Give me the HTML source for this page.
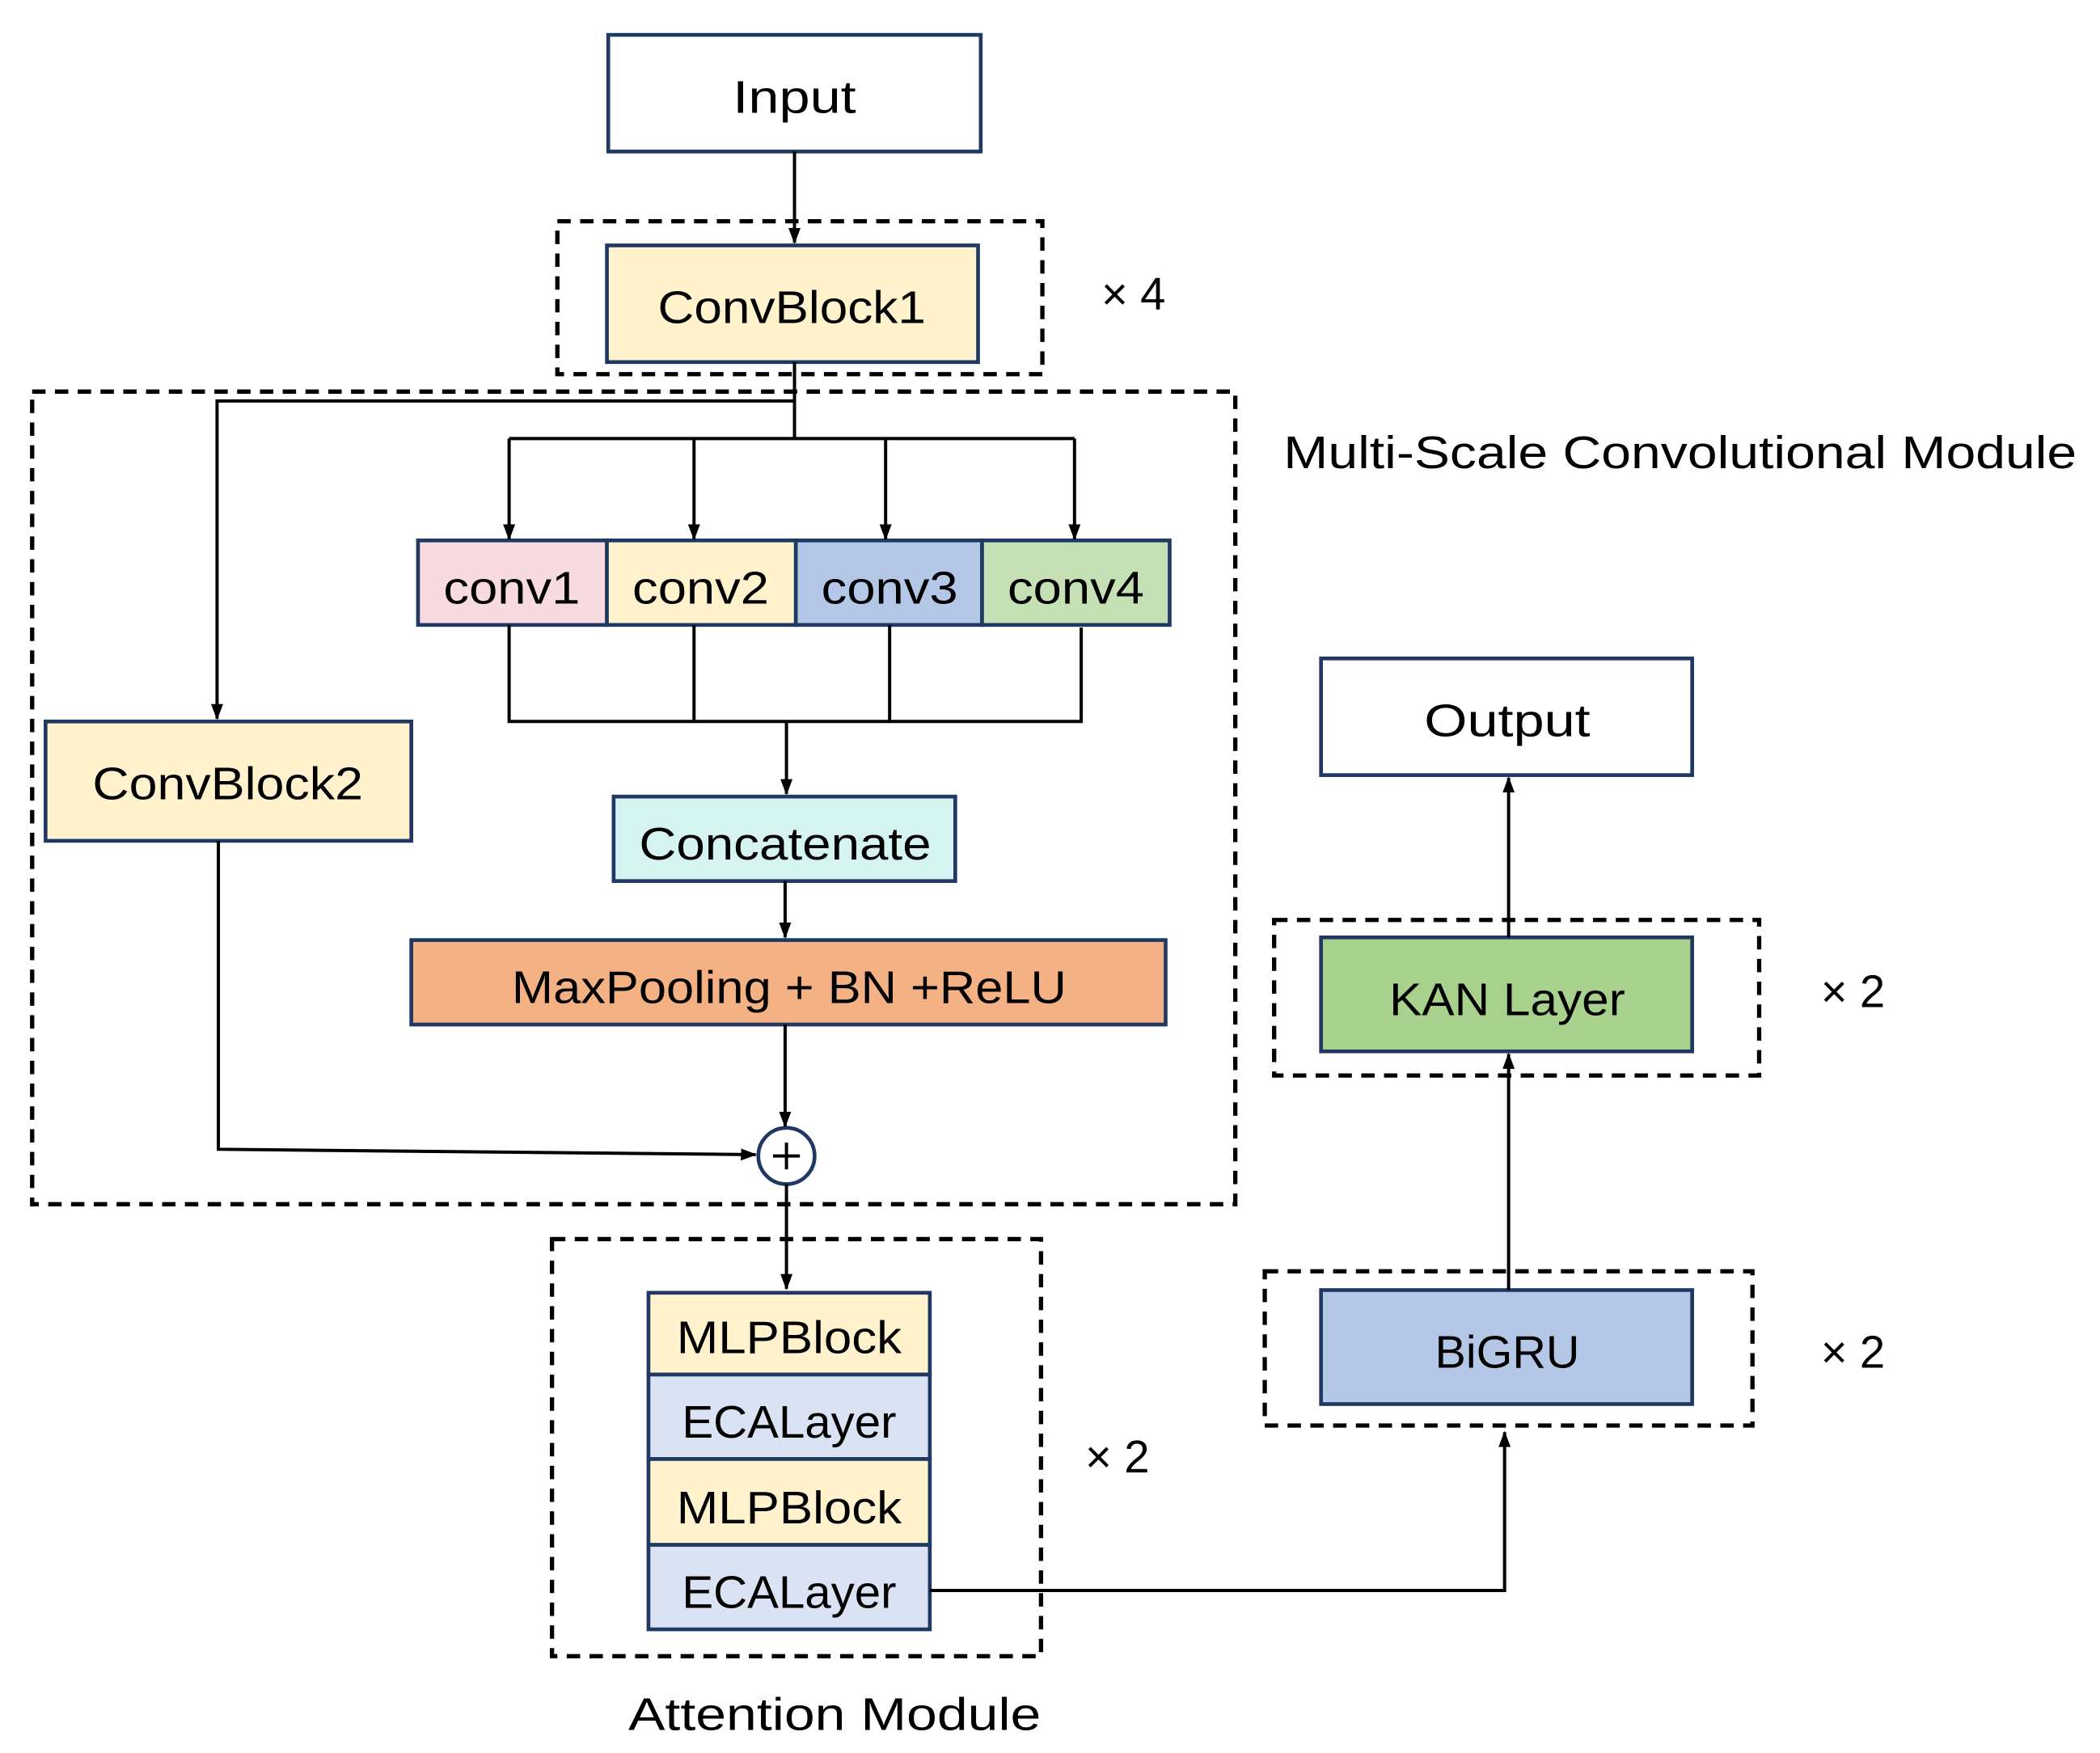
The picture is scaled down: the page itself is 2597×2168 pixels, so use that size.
<!DOCTYPE html>
<html><head><meta charset="utf-8"><style>html,body{margin:0;padding:0;background:#fff}svg{display:block}</style></head>
<body>
<svg width="2597" height="2168" viewBox="0 0 1567.4 1307.2" preserveAspectRatio="none" xmlns="http://www.w3.org/2000/svg" font-family="Liberation Sans, sans-serif" font-size="34">
<defs><marker id="a" markerWidth="12" markerHeight="12" refX="11" refY="6" orient="auto" markerUnits="userSpaceOnUse"><path d="M0,1.5 L12,6 L0,10.5 z" fill="#000"/></marker></defs>
<g fill="none" stroke="#000" stroke-width="3.2" stroke-dasharray="10,7">
<rect x="416" y="165" width="362" height="114"/>
<rect x="24" y="292" width="898" height="606"/>
<rect x="412" y="924" width="365" height="311"/>
<rect x="944" y="948" width="364" height="115"/>
<rect x="951" y="686" width="362" height="116"/>
</g>
<g stroke="#1f3864" stroke-width="2.8">
<rect x="454" y="26" width="278" height="87" fill="#fff"/>
<rect x="453" y="183" width="277" height="87" fill="#fff2cc"/>
<rect x="312" y="403" width="141" height="63" fill="#f8dbe0"/>
<rect x="453" y="403" width="141" height="63" fill="#fff2cc"/>
<rect x="594" y="403" width="139" height="63" fill="#b4c7e7"/>
<rect x="733" y="403" width="140" height="63" fill="#c5e0b4"/>
<rect x="34" y="538" width="273" height="89" fill="#fff2cc"/>
<rect x="458" y="594" width="255" height="63" fill="#d5f3f0"/>
<rect x="307" y="701" width="563" height="63" fill="#f4b183"/>
<rect x="484" y="964" width="210" height="61" fill="#fff2cc"/>
<rect x="484" y="1025" width="210" height="63" fill="#dae3f3"/>
<rect x="484" y="1088" width="210" height="64" fill="#fff2cc"/>
<rect x="484" y="1152" width="210" height="63" fill="#dae3f3"/>
<rect x="986" y="962" width="277" height="85" fill="#b4c7e7"/>
<rect x="986" y="699" width="277" height="85" fill="#a9d18e"/>
<rect x="986" y="491" width="277" height="87" fill="#fff"/>
<circle cx="587" cy="862" r="21" fill="#fff"/>
</g>
<g stroke="#000" stroke-width="2.4" fill="none">
<line x1="593" y1="113" x2="593" y2="181" marker-end="url(#a)"/>
<polyline points="593,270 593,327"/>
<polyline points="593,299 162,299 162,536" marker-end="url(#a)"/>
<line x1="380" y1="327" x2="802" y2="327"/>
<line x1="380" y1="327" x2="380" y2="402" marker-end="url(#a)"/>
<line x1="518" y1="327" x2="518" y2="402" marker-end="url(#a)"/>
<line x1="661" y1="327" x2="661" y2="402" marker-end="url(#a)"/>
<line x1="802" y1="327" x2="802" y2="402" marker-end="url(#a)"/>
<polyline points="380,466 380,538 807,538 807,468"/>
<line x1="518" y1="466" x2="518" y2="538"/>
<line x1="664" y1="466" x2="664" y2="538"/>
<line x1="587" y1="538" x2="587" y2="592" marker-end="url(#a)"/>
<line x1="586" y1="657" x2="586" y2="699" marker-end="url(#a)"/>
<line x1="586" y1="764" x2="586" y2="840" marker-end="url(#a)"/>
<polyline points="163,627 163,857 564,861" marker-end="url(#a)"/>
<line x1="587" y1="883" x2="587" y2="961" marker-end="url(#a)"/>
<polyline points="694,1186 1123,1186 1123,1068" marker-end="url(#a)"/>
<line x1="1126" y1="962" x2="1126" y2="786" marker-end="url(#a)"/>
<line x1="1126" y1="699" x2="1126" y2="580" marker-end="url(#a)"/>
<line x1="577" y1="862" x2="597" y2="862"/>
<line x1="587" y1="852" x2="587" y2="872"/>
</g>
<g fill="#000" text-anchor="middle">
<text x="593" y="84" textLength="92" lengthAdjust="spacingAndGlyphs">Input</text>
<text x="591" y="241" textLength="200" lengthAdjust="spacingAndGlyphs">ConvBlock1</text>
<text x="382" y="450" textLength="102" lengthAdjust="spacingAndGlyphs">conv1</text>
<text x="523" y="450" textLength="102" lengthAdjust="spacingAndGlyphs">conv2</text>
<text x="664" y="450" textLength="102" lengthAdjust="spacingAndGlyphs">conv3</text>
<text x="803" y="450" textLength="102" lengthAdjust="spacingAndGlyphs">conv4</text>
<text x="170" y="596" textLength="202" lengthAdjust="spacingAndGlyphs">ConvBlock2</text>
<text x="586" y="641" textLength="218" lengthAdjust="spacingAndGlyphs">Concatenate</text>
<text x="589" y="748" textLength="414" lengthAdjust="spacingAndGlyphs">MaxPooling + BN +ReLU</text>
<text x="589" y="1009" textLength="168" lengthAdjust="spacingAndGlyphs">MLPBlock</text>
<text x="589" y="1072" textLength="160" lengthAdjust="spacingAndGlyphs">ECALayer</text>
<text x="589" y="1136" textLength="168" lengthAdjust="spacingAndGlyphs">MLPBlock</text>
<text x="589" y="1199" textLength="160" lengthAdjust="spacingAndGlyphs">ECALayer</text>
<text x="1125" y="1020" textLength="108" lengthAdjust="spacingAndGlyphs">BiGRU</text>
<text x="1125" y="757" textLength="176" lengthAdjust="spacingAndGlyphs">KAN Layer</text>
<text x="1125" y="549" textLength="124" lengthAdjust="spacingAndGlyphs">Output</text>
<text x="846" y="231" textLength="48" lengthAdjust="spacing">×4</text>
<text x="1383" y="751" textLength="48" lengthAdjust="spacing">×2</text>
<text x="1383" y="1020" textLength="48" lengthAdjust="spacing">×2</text>
<text x="834" y="1098" textLength="48" lengthAdjust="spacing">×2</text>
<text x="623" y="1290" textLength="308" lengthAdjust="spacingAndGlyphs">Attention Module</text>
<text x="1254" y="349" textLength="592" lengthAdjust="spacingAndGlyphs">Multi-Scale Convolutional Module</text>
</g>
</svg>
</body></html>
